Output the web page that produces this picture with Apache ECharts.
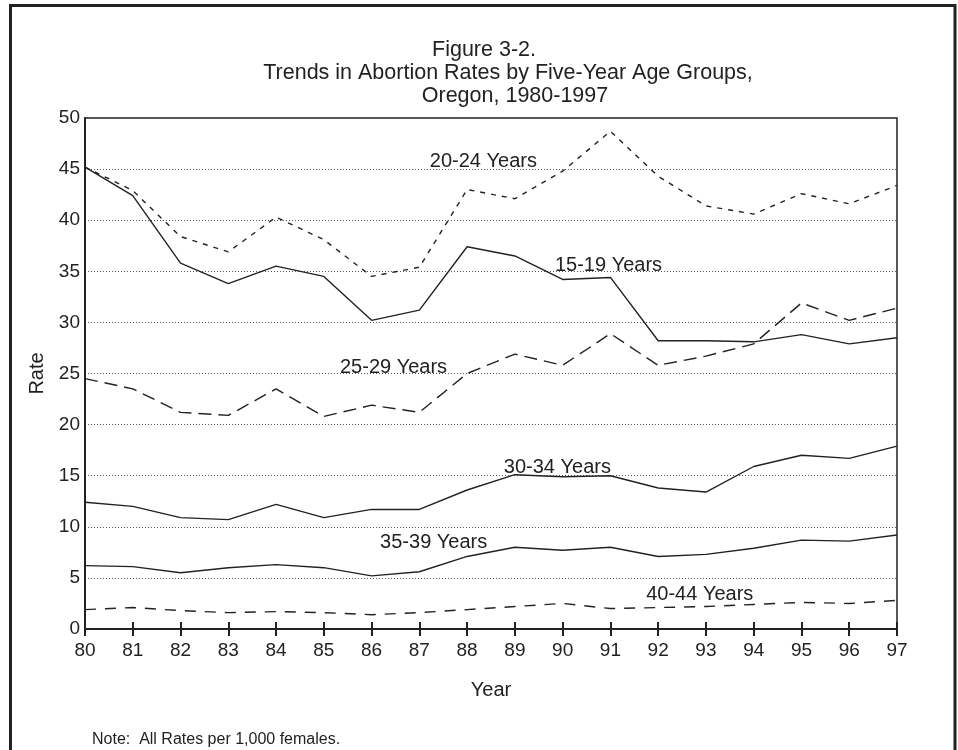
<!DOCTYPE html>
<html>
<head>
<meta charset="utf-8">
<title>Figure 3-2</title>
<script src="https://cdn.jsdelivr.net/npm/echarts@6/dist/echarts.min.js"></script>
<style>
  html, body { margin: 0; padding: 0; background: #fff; }
  #main { width: 958px; height: 750px; }
</style>
</head>
<body>
<div id="main"></div>
<script>
// years (x axis, 1980-1997 shown as 80..97)
const years = [80, 81, 82, 83, 84, 85, 86, 87, 88, 89, 90, 91, 92, 93, 94, 95, 96, 97];
// abortion rates per 1,000 females
const age1519 = [45.2, 42.4, 35.8, 33.8, 35.5, 34.5, 30.2, 31.2, 37.4, 36.5, 34.2, 34.4, 28.2, 28.2, 28.1, 28.8, 27.9, 28.5];
const age2024 = [45.2, 42.9, 38.4, 36.9, 40.3, 38.1, 34.5, 35.4, 43.0, 42.1, 44.8, 48.7, 44.3, 41.4, 40.6, 42.6, 41.6, 43.4];
const age2529 = [24.5, 23.5, 21.2, 20.9, 23.5, 20.8, 21.9, 21.2, 25.0, 26.9, 25.8, 28.9, 25.8, 26.7, 27.9, 31.9, 30.2, 31.4];
const age3034 = [12.4, 12.0, 10.9, 10.7, 12.2, 10.9, 11.7, 11.7, 13.6, 15.1, 14.9, 15.0, 13.8, 13.4, 15.9, 17.0, 16.7, 17.9];
const age3539 = [6.2, 6.1, 5.5, 6.0, 6.3, 6.0, 5.2, 5.6, 7.1, 8.0, 7.7, 8.0, 7.1, 7.3, 7.9, 8.7, 8.6, 9.2];
const age4044 = [1.9, 2.1, 1.8, 1.6, 1.7, 1.6, 1.4, 1.6, 1.9, 2.2, 2.5, 2.0, 2.1, 2.2, 2.4, 2.6, 2.5, 2.8];
const yTicks = [0, 5, 10, 15, 20, 25, 30, 35, 40, 45, 50];

const ink = "#222";
const font = "Liberation Sans, Arial, sans-serif";

// where each series' name sits in the plot (data units)
const seriesDefs = [
  { name: "15-19 Years", data: age1519, dash: "solid", at: [90.96, 35.6] },
  { name: "20-24 Years", data: age2024, dash: [5, 6], at: [88.34, 45.7] },
  { name: "25-29 Years", data: age2529, dash: [13, 7], at: [86.46, 25.6] },
  { name: "30-34 Years", data: age3034, dash: "solid", at: [89.89, 15.8] },
  { name: "35-39 Years", data: age3539, dash: "solid", at: [87.3, 8.5] },
  { name: "40-44 Years", data: age4044, dash: [11, 9], at: [92.87, 3.4] },
];

const chart = echarts.init(document.getElementById("main"), null, { renderer: "canvas" });

const option = {
  animation: false,
  backgroundColor: "#fff",
  textStyle: { fontFamily: font, color: ink },
  grid: {
    left: 85,
    right: 61,
    top: 118,
    bottom: 121,
    show: true,
    borderColor: ink,
    borderWidth: 1.5,
    backgroundColor: "transparent",
  },
  xAxis: [
    {
      type: "value",
      min: 80,
      max: 97,
      interval: 1,
      name: "Year",
      nameLocation: "middle",
      nameGap: 51,
      nameTextStyle: { fontSize: 20, color: ink, fontFamily: font },
      axisLine: { show: true, lineStyle: { color: ink, width: 2 } },
      axisTick: { show: true, length: 7, lineStyle: { color: ink, width: 2 } },
      axisLabel: { fontSize: 19, color: ink, margin: 12, fontFamily: font },
      splitLine: { show: false },
    },
    {
      // inner half of the crossing ticks
      type: "value",
      min: 80,
      max: 97,
      interval: 1,
      position: "bottom",
      axisLine: { show: false },
      axisTick: { show: true, inside: true, length: 7, lineStyle: { color: ink, width: 2 } },
      axisLabel: { show: false },
      splitLine: { show: false },
    },
  ],
  yAxis: {
    type: "value",
    min: yTicks[0],
    max: yTicks[yTicks.length - 1],
    interval: 5,
    name: "Rate",
    nameLocation: "middle",
    nameGap: 34,
    nameTextStyle: { fontSize: 20, color: ink, fontFamily: font },
    axisLine: { show: true, lineStyle: { color: ink, width: 2 } },
    axisTick: { show: false },
    axisLabel: { fontSize: 19, color: ink, margin: 5, fontFamily: font },
    splitLine: { show: true, lineStyle: { color: "#555", width: 1, type: [1, 2] } },
  },
  series: seriesDefs.map((s) => ({
    name: s.name,
    type: "line",
    xAxisIndex: 0,
    data: years.map((yr, i) => [yr, s.data[i]]),
    symbol: "none",
    lineStyle: { color: ink, width: 1.4, type: s.dash },
    markPoint: {
      symbol: "circle",
      symbolSize: 0,
      silent: true,
      data: [
        {
          coord: s.at,
          label: {
            show: true,
            position: "inside",
            formatter: s.name,
            fontSize: 20,
            color: ink,
            fontFamily: font,
          },
        },
      ],
    },
  })),
  graphic: [
    // outer frame (open at the bottom)
    {
      type: "polyline",
      shape: { points: [[10.5, 750], [10.5, 5.5], [955, 5.5], [955, 750]] },
      style: { stroke: ink, lineWidth: 3, fill: null },
    },
    {
      type: "text",
      x: 484,
      y: 50,
      style: { text: "Figure 3-2.", fontSize: 21.5, fontFamily: font, fill: ink, align: "center", verticalAlign: "middle" },
    },
    {
      type: "text",
      x: 508,
      y: 73,
      style: { text: "Trends in Abortion Rates by Five-Year Age Groups,", fontSize: 21.5, fontFamily: font, fill: ink, align: "center", verticalAlign: "middle" },
    },
    {
      type: "text",
      x: 515,
      y: 96,
      style: { text: "Oregon, 1980-1997", fontSize: 21.5, fontFamily: font, fill: ink, align: "center", verticalAlign: "middle" },
    },
    {
      type: "text",
      x: 92,
      y: 740,
      style: { text: "Note:  All Rates per 1,000 females.", fontSize: 16, fontFamily: font, fill: ink, align: "left", verticalAlign: "middle" },
    },
  ],
};

chart.setOption(option);
</script>
</body>
</html>
